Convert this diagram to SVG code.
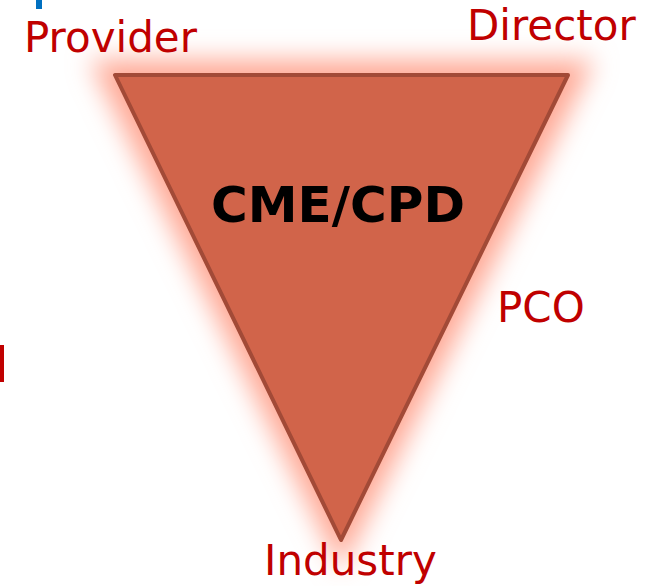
<svg xmlns="http://www.w3.org/2000/svg" width="656" height="586" viewBox="0 0 656 586">
<defs>
<filter id="glow" x="-30%" y="-30%" width="160%" height="160%">
<feGaussianBlur stdDeviation="13"/>
</filter>
<style>
.lbl{font-family:"DejaVu Sans",Verdana,sans-serif;font-size:42px;fill:#c00000}
.title{font-family:"DejaVu Sans",Verdana,sans-serif;font-size:50px;font-weight:bold;fill:#000}
</style>
</defs>
<rect width="656" height="586" fill="#fff"/>
<rect x="36" y="0" width="6" height="9" fill="#0070c0"/>
<rect x="0" y="345" width="4" height="37" fill="#c00000"/>
<g id="triangle">
<polygon points="90,60 594,60 341,570" fill="#ffa894" filter="url(#glow)"/>
<polygon points="115,75 568,75 341,540" fill="#d1644a" stroke="#a24a37" stroke-width="4" stroke-linejoin="round"/>
<text class="title" x="338" y="222" text-anchor="middle" textLength="254" lengthAdjust="spacingAndGlyphs">CME/CPD</text>
</g>
<g id="provider"><text class="lbl" x="24" y="52">Provider</text></g>
<g id="director"><text class="lbl" x="467" y="40">Director</text></g>
<g id="pco"><text class="lbl" x="497" y="322">PCO</text></g>
<g id="industry"><text class="lbl" x="264" y="575">Industry</text></g>
<g id="connectors"/>
</svg>
